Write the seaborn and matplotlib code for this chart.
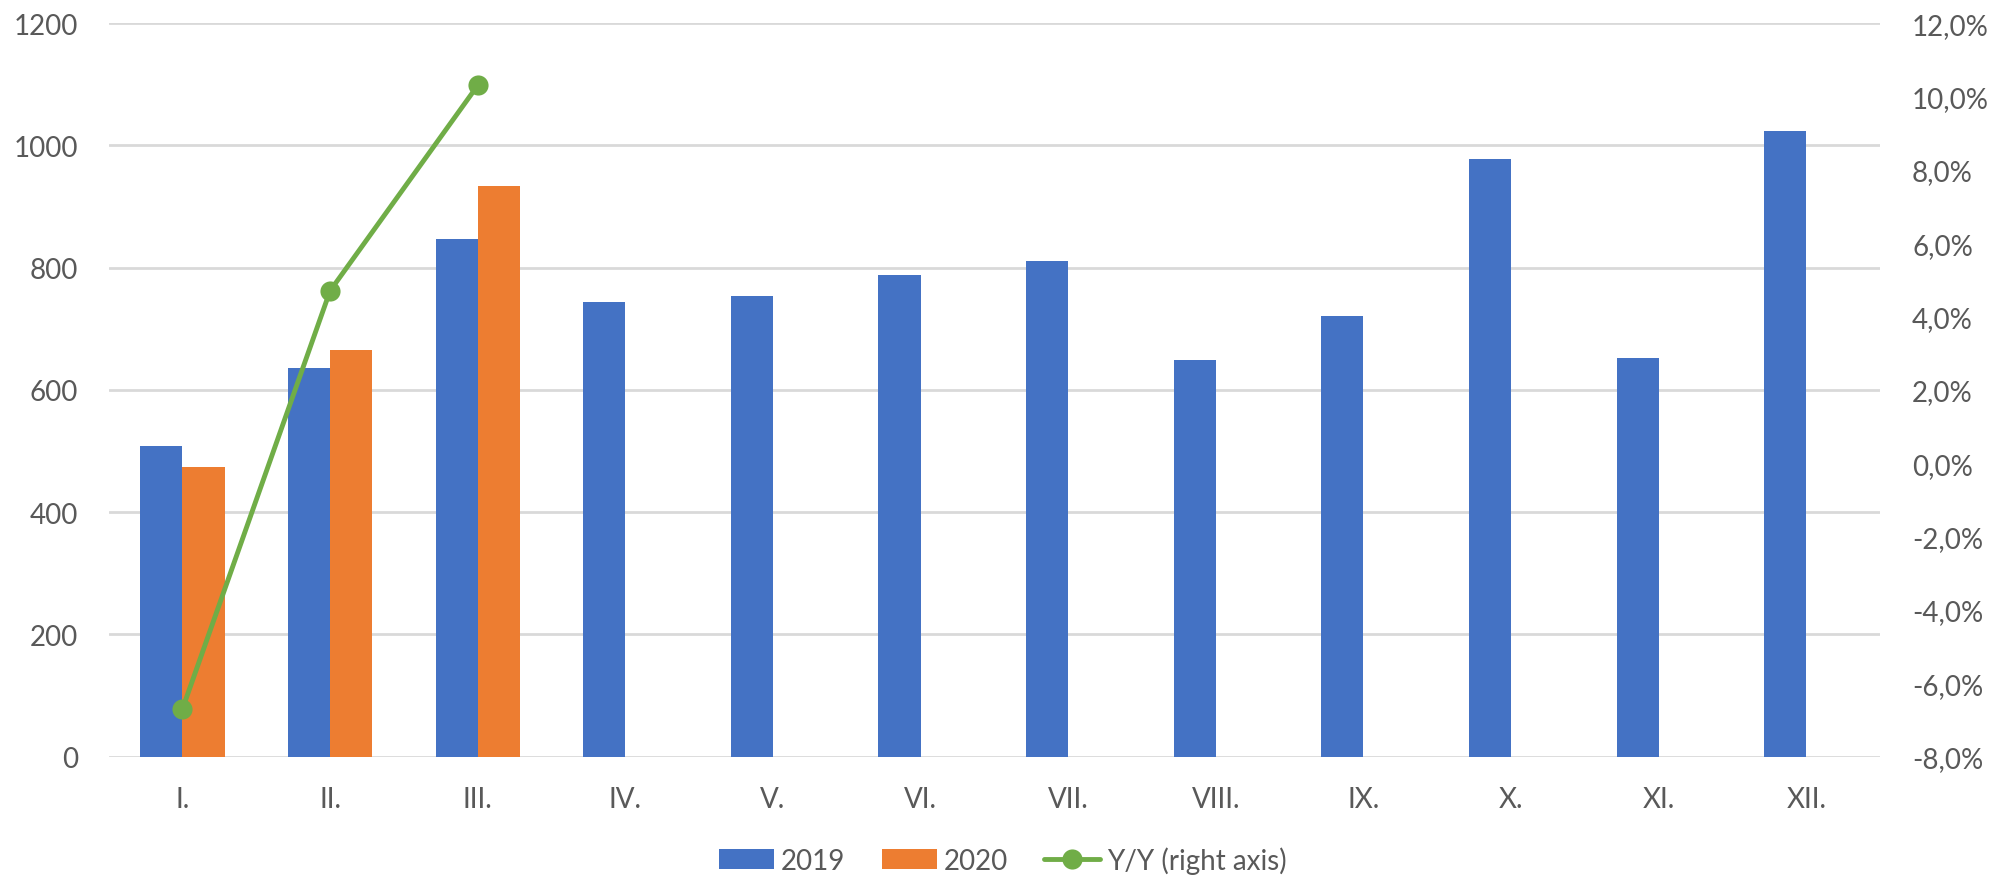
import numpy as np
import pandas as pd
import matplotlib
matplotlib.use("Agg")
import matplotlib.pyplot as plt
from matplotlib.patches import Patch
from matplotlib.lines import Line2D
import seaborn as sns

# Monthly volumes and year-over-year change
months = ["I.", "II.", "III.", "IV.", "V.", "VI.", "VII.", "VIII.", "IX.", "X.", "XI.", "XII."]
vals_2019 = [508, 635, 847, 743, 753, 787, 810, 649, 721, 977, 652, 1023]
vals_2020 = [474, 665, 933, np.nan, np.nan, np.nan, np.nan, np.nan, np.nan, np.nan, np.nan, np.nan]
yoy_pct = [-6.7, 4.7, 10.3]
series_names = ["2019", "2020"]
line_name = "Y/Y (right axis)"

BLUE = "#4472C4"
ORANGE = "#ED7D31"
GREEN = "#70AD47"
GRID = "#D9D9D9"
TEXT = "#595959"

sns.set_theme(style="white")
plt.rcParams["font.family"] = ["Lato", "DejaVu Sans"]

df = pd.DataFrame({
    "month": months * 2,
    "year": [series_names[0]] * 12 + [series_names[1]] * 12,
    "value": vals_2019 + vals_2020,
})

fig = plt.figure(figsize=(20.05, 8.78), dpi=100)
ax = fig.add_axes([0.0542, 0.1372, 0.8835, 0.8354])

sns.barplot(data=df, x="month", y="value", hue="year", order=months,
            hue_order=series_names, palette=[BLUE, ORANGE], width=0.571,
            gap=0, errorbar=None, saturation=1, legend=False, ax=ax,
            edgecolor="none")

ax.set_xlim(-0.5, len(months) - 0.5)
ax.set_ylim(0, 1200)
ax.set_yticks(np.arange(0, 1201, 200))
ax.yaxis.grid(True, color=GRID, linewidth=2)
ax.set_axisbelow(True)
ax.set_xlabel("")
ax.set_ylabel("")
for s in ax.spines.values():
    s.set_visible(False)
ax.tick_params(axis="both", length=0, labelsize=20, colors=TEXT)
ax.tick_params(axis="x", pad=21)
ax.tick_params(axis="y", pad=22)

# Year-over-year change on the secondary axis
ax2 = ax.twinx()
x_line = np.arange(len(yoy_pct))
sns.lineplot(x=x_line, y=yoy_pct, ax=ax2, color=GREEN, linewidth=3.5,
             marker="o", markersize=14.5, markeredgewidth=0, legend=False)
ax2.set_ylim(-8, 12)
right_ticks = np.arange(-8, 12.1, 2)
ax2.set_yticks(right_ticks)
ax2.set_yticklabels([f"{v:.1f}%".replace(".", ",") for v in right_ticks])
ax2.grid(False)
for s in ax2.spines.values():
    s.set_visible(False)
ax2.tick_params(axis="y", length=0, labelsize=20, colors=TEXT, pad=23)
ax2.set_xlim(-0.5, len(months) - 0.5)

handles = [
    Patch(facecolor=BLUE, edgecolor="none"),
    Patch(facecolor=ORANGE, edgecolor="none"),
    Line2D([0], [0], color=GREEN, linewidth=3.5, marker="o", markersize=14.5, markeredgewidth=0),
]
fig.legend(handles, series_names + [line_name], loc="center", bbox_to_anchor=(0.5, 0.0194),
           ncol=3, frameon=False, fontsize=20, labelcolor=TEXT, handlelength=2.0,
           handleheight=0.75, columnspacing=1.3, handletextpad=0.25, borderpad=0)

fig.savefig("out.png", dpi=100)
